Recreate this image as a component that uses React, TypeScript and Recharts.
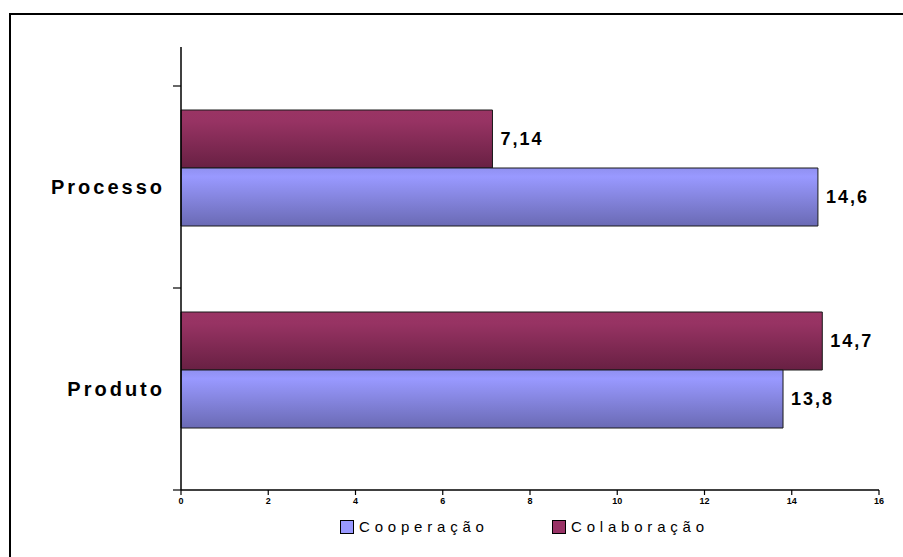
import React from 'react';
import { BarChart, Bar, XAxis, YAxis, LabelList, Legend } from 'recharts';

// Categories and series values
const categories = ['Processo', 'Produto'];
const cooperacao = [14.6, 13.8];
const colaboracao = [7.14, 14.7];
const xTicks = [0, 2, 4, 6, 8, 10, 12, 14, 16];

const seriesNames = { coop: 'Cooperação', colab: 'Colaboração' };

const data = categories.map((c, i) => ({
  categoria: c,
  colab: colaboracao[i],
  coop: cooperacao[i],
}));

const FONT = 'Arial, "Liberation Sans", sans-serif';

const fmt = (v: number) => String(v).replace('.', ',');

// Category label plus the axis tick marks at the band boundaries
const CategoryTick = (props: any) => {
  const { x, y, payload, index, visibleTicksCount } = props;
  const axisX = x + 16;
  const last = index === (visibleTicksCount ?? 2) - 1;
  return (
    <g>
      <line x1={axisX - 8} x2={axisX} y1={y - 82} y2={y - 82} stroke="#000" strokeWidth={1.2} />
      {last && <line x1={axisX - 8} x2={axisX} y1={y + 120} y2={y + 120} stroke="#000" strokeWidth={1.2} />}
      <text
        x={x}
        y={y + 19}
        textAnchor="end"
        dominantBaseline="central"
        fontFamily={FONT}
        fontWeight="bold"
        fontSize={20}
        letterSpacing={3}
        fill="#000"
      >
        {payload.value}
      </text>
    </g>
  );
};

const ValueLabel = (props: any) => {
  const { x, y, width, height, value } = props;
  return (
    <text
      x={x + width + 8}
      y={y + height / 2}
      dominantBaseline="central"
      fontFamily={FONT}
      fontWeight="bold"
      fontSize={18}
      letterSpacing={2}
      fill="#000"
    >
      {fmt(value)}
    </text>
  );
};

const LegendContent = () => (
  <div style={{ position: 'relative', height: 20, fontFamily: FONT, fontSize: 15, color: '#000' }}>
    {[
      { name: seriesNames.coop, color: '#9999ff', left: 340 },
      { name: seriesNames.colab, color: '#993366', left: 552 },
    ].map((it) => (
      <div key={it.name} style={{ position: 'absolute', left: it.left, top: 0, display: 'flex', alignItems: 'center' }}>
        <span style={{ display: 'inline-block', width: 12, height: 12, background: it.color, border: '1px solid #000', marginRight: 5 }} />
        <span style={{ letterSpacing: 4.8 }}>{it.name}</span>
      </div>
    ))}
  </div>
);

export default function App() {
  return (
    <div style={{ position: 'absolute', left: 0, top: 0, width: 903, height: 557, overflow: 'hidden', background: '#fff' }}>
      <div
        style={{
          position: 'absolute',
          left: 9,
          top: 13,
          width: 1200,
          height: 1200,
          border: '2px solid #000',
          boxSizing: 'border-box',
        }}
      />
      <div style={{ position: 'absolute', left: 0, top: 0 }}>
        <BarChart
          width={903}
          height={557}
          data={data}
          layout="vertical"
          margin={{ top: 47, right: 24, bottom: 17, left: 11 }}
          barGap={0}
          barSize={58}
        >
          <defs>
            <linearGradient id="gradColab" x1="0" y1="0" x2="0" y2="1">
              <stop offset="0%" stopColor="#9a3464" />
              <stop offset="20%" stopColor="#973363" />
              <stop offset="100%" stopColor="#682043" />
            </linearGradient>
            <linearGradient id="gradCoop" x1="0" y1="0" x2="0" y2="1">
              <stop offset="0%" stopColor="#9090f0" />
              <stop offset="15%" stopColor="#9999ff" />
              <stop offset="100%" stopColor="#6a6ab4" />
            </linearGradient>
          </defs>
          <XAxis
            type="number"
            domain={[0, 16]}
            ticks={xTicks}
            interval={0}
            tickSize={5}
            tickMargin={3}
            axisLine={{ stroke: '#000', strokeWidth: 1.5 }}
            tickLine={{ stroke: '#000', strokeWidth: 1.2 }}
            tick={{ fontSize: 9, fontWeight: 'bold', fill: '#000', fontFamily: FONT }}
            height={30}
          />
          <YAxis
            type="category"
            dataKey="categoria"
            width={170}
            padding={{ top: 20, bottom: 19 }}
            tickSize={0}
            tickMargin={16}
            tickLine={false}
            axisLine={{ stroke: '#000', strokeWidth: 1.5 }}
            tick={<CategoryTick />}
            interval={0}
          />
          <Legend
            verticalAlign="bottom"
            content={<LegendContent />}
            wrapperStyle={{ position: 'absolute', left: 0, top: 518, width: 903 }}
          />
          <Bar dataKey="colab" name={seriesNames.colab} fill="url(#gradColab)" stroke="#1a1a1a" strokeWidth={1} isAnimationActive={false}>
            <LabelList dataKey="colab" content={<ValueLabel />} />
          </Bar>
          <Bar dataKey="coop" name={seriesNames.coop} fill="url(#gradCoop)" stroke="#1a1a1a" strokeWidth={1} isAnimationActive={false}>
            <LabelList dataKey="coop" content={<ValueLabel />} />
          </Bar>
        </BarChart>
      </div>
    </div>
  );
}
